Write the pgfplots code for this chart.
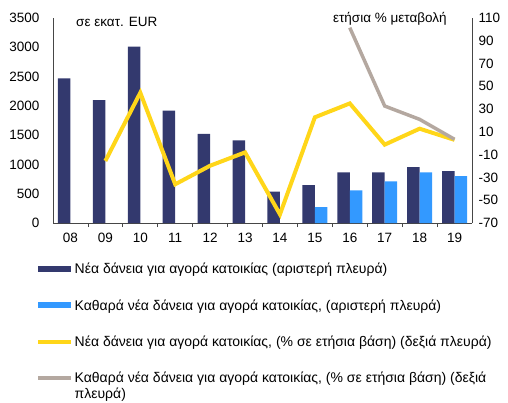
\documentclass[border=0pt]{standalone}
\usepackage{fontspec}
\setmainfont{Liberation Sans}
\usepackage{pgfplots}
\pgfplotsset{compat=1.18}
\definecolor{navy}{RGB}{51,57,110}
\definecolor{lblue}{RGB}{51,153,255}
\definecolor{yell}{RGB}{255,214,25}
\definecolor{taupe}{RGB}{180,168,160}
\definecolor{axgray}{RGB}{70,70,70}
\begin{document}
\begin{tikzpicture}[font=\fontsize{13.5bp}{16bp}\selectfont]
\path[use as bounding box] (-53bp,-180bp) rectangle (455bp,223bp);
\begin{axis}[
 scale only axis, width=419bp, height=205bp,
 clip mode=individual,
 xmin=-0.5, xmax=11.5, ymin=0, ymax=3500,
 axis x line*=bottom, axis y line*=left,
 axis line style={-, draw=axgray, line width=0.8bp},
 xtick={0.5,1.5,...,10.5}, xticklabels={},
 extra x ticks={0,1,...,11},
 extra x tick labels={08,09,10,11,12,13,14,15,16,17,18,19},
 extra x tick style={major tick length=0pt},
 tick align=outside, major tick length=4bp,
 tick style={draw=axgray, line width=0.8bp},
 ytick={0,500,...,3500}, ytick style={draw=none},
 /pgf/number format/assume math mode=true,
 /pgf/number format/1000 sep={},
 yticklabel style={xshift=-6bp},
 xticklabel style={yshift=-7bp},
]
\addplot[ybar, bar width=12.5bp, bar shift=-6.25bp, fill=navy, draw=none]
 coordinates {(0,2470) (1,2100) (2,3010) (3,1920) (4,1520) (5,1410) (6,534) (7,648) (8,865) (9,865) (10,956) (11,887)};
\addplot[ybar, bar width=12.5bp, bar shift=6.25bp, fill=lblue, draw=none]
 coordinates {(7,270) (8,558) (9,712) (10,865) (11,802)};
\node[anchor=west, inner sep=0pt] at (axis description cs:0.055,0.98) {σε εκατ. EUR};
\end{axis}
\begin{axis}[
 scale only axis, width=419bp, height=205bp,
 clip mode=individual,
 xmin=-0.5, xmax=11.5, ymin=-70, ymax=110,
 axis x line=none, axis y line*=right,
 axis line style={-, draw=axgray, line width=0.8bp},
 ytick={-70,-50,...,110}, ytick style={draw=none},
 /pgf/number format/assume math mode=true,
 yticklabel style={xshift=3bp},
 legend image code/.code={\draw[#1] (0bp,0bp) -- (33bp,0bp);},
 legend style={at={(axis description cs:-0.043,-0.185)}, anchor=north west,
   draw=none, fill=none, inner sep=0pt, row sep=20.3bp,
   font=\fontsize{14bp}{16.5bp}\selectfont,
   nodes={inner xsep=0.5bp, inner ysep=2bp}},
 legend cell align=left,
]
\addlegendimage{navy, line width=6bp}
\addlegendentry{Νέα δάνεια για αγορά κατοικίας (αριστερή πλευρά)}
\addlegendimage{lblue, line width=6bp}
\addlegendentry{Καθαρά νέα δάνεια για αγορά κατοικίας, (αριστερή πλευρά)}
\addplot[yell, line width=4bp]
 coordinates {(1,-15.5) (2,44.4) (3,-36) (4,-19.7) (5,-8) (6,-62.4) (7,22.8) (8,35) (9,-1.2) (10,12.8) (11,3)};
\addlegendentry{Νέα δάνεια για αγορά κατοικίας, (\% σε ετήσια βάση) (δεξιά πλευρά)}
\addplot[taupe, line width=3.5bp]
 coordinates {(8,101.5) (9,32.7) (10,21) (11,3.5)};
\addlegendentry{\smash{\makebox[0pt][l]{\raisebox{-15.5bp}{πλευρά)}}}Καθαρά νέα δάνεια για αγορά κατοικίας, (\% σε ετήσια βάση) (δεξιά}
\node[anchor=west, inner sep=0pt] at (axis description cs:0.668,0.995) {ετήσια \% μεταβολή};
\end{axis}
\end{tikzpicture}
\end{document}
